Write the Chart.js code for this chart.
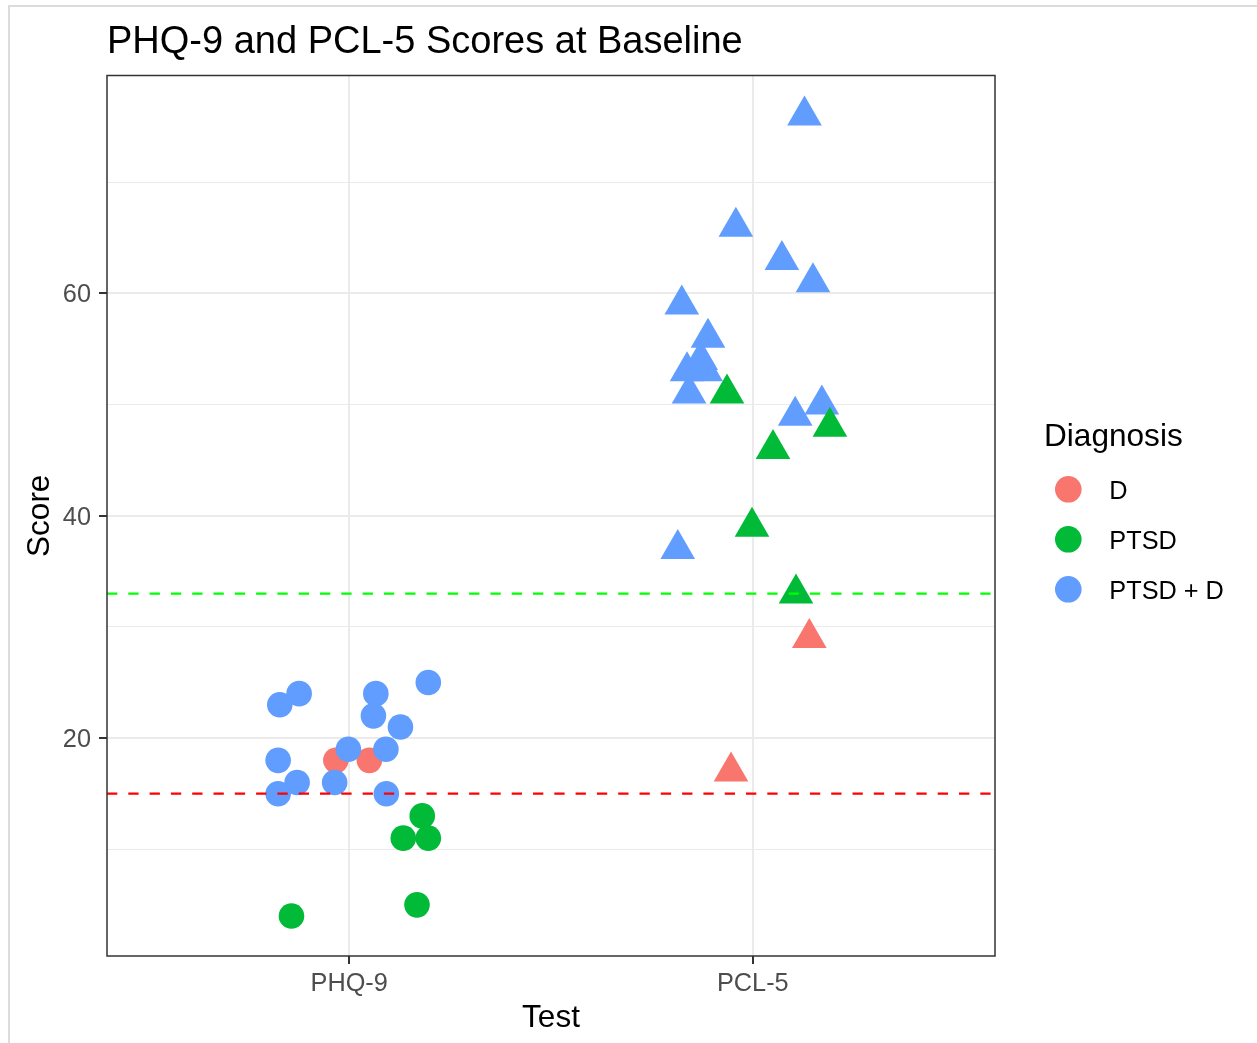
<!DOCTYPE html>
<html>
<head>
<meta charset="utf-8">
<title>PHQ-9 and PCL-5 Scores at Baseline</title>
<script src="https://cdn.jsdelivr.net/npm/chart.js@4.4.1/dist/chart.umd.min.js"></script>
<style>
    html, body { margin: 0; padding: 0; background: #fff; overflow: hidden; }
    #wrap { position: relative; width: 1257px; height: 1043px; }
    #frame { position: absolute; left: 8px; top: 5px; right: 0; bottom: 0;
             border-left: 2px solid #dcdcdc; border-top: 2px solid #dcdcdc; pointer-events: none; }
</style>
</head>
<body>
<div id="wrap">
    <canvas id="score-chart"></canvas>
    <div id="frame"></div>
</div>
<script>
// categories
const testLabels = ['PHQ-9', 'PCL-5'];
const diagnosisLabels = ['D', 'PTSD', 'PTSD + D'];

// jittered test position (1 = PHQ-9, 2 = PCL-5) and score, per diagnosis
const dJitter = [0.967, 1.050, 2.140, 1.946];
const dScores = [18, 18, 29, 17];

const ptsdJitter = [1.181, 1.134, 1.196, 1.168, 0.857, 1.936, 2.191, 2.050, 1.998, 2.107];
const ptsdScores = [13, 11, 11, 5, 4, 51, 48, 46, 39, 33];

const bothJitter = [0.828, 0.876, 1.066, 1.196, 1.060, 1.127, 0.824, 0.998, 1.091, 0.871, 0.964, 0.824, 1.092,
                    2.128, 1.958, 2.072, 2.149, 1.824, 1.889, 1.871, 1.837, 1.883, 1.842, 2.171, 2.105, 1.814];
const bothScores = [23, 24, 24, 25, 22, 21, 18, 19, 19, 16, 16, 15, 15,
                    76, 66, 63, 61, 59, 56, 54, 53, 53, 51, 50, 49, 37];

// cut-off scores (dashed lines)
const cutoffScores = [15, 33];

// axis ticks
const yTicks = [10, 20, 30, 40, 50, 60, 70];
const yLabelled = [20, 40, 60];
const xRange = [0.4, 2.6];
const yRange = [0.4, 79.6];

const diagnosisColors = ['#F8766D', '#00BA38', '#619CFF'];
const cutoffColors = ['#FF0000', '#00FF00'];
const FONT = '"Liberation Sans", Arial, sans-serif';

function toPoints(xs, ys) {
    return xs.map((x, i) => ({ x: x, y: ys[i] }));
}

const groups = [
    { label: diagnosisLabels[0], data: toPoints(dJitter, dScores), color: diagnosisColors[0], order: 3 },
    { label: diagnosisLabels[1], data: toPoints(ptsdJitter, ptsdScores), color: diagnosisColors[1], order: 1 },
    { label: diagnosisLabels[2], data: toPoints(bothJitter, bothScores), color: diagnosisColors[2], order: 2 }
];

const pointDatasets = groups.map(g => ({
    label: g.label,
    data: g.data,
    order: g.order,
    backgroundColor: g.color,
    borderWidth: 0,
    pointStyle: ctx => (ctx.raw && ctx.raw.x < 1.5 ? 'circle' : 'triangle'),
    pointRadius: ctx => (ctx.raw && ctx.raw.x < 1.5 ? 12.8 : 20),
    pointHoverRadius: ctx => (ctx.raw && ctx.raw.x < 1.5 ? 12.8 : 20)
}));

const lineDatasets = cutoffScores.map((s, i) => ({
    type: 'line',
    label: 'cutoff ' + s,
    data: [{ x: xRange[0], y: s }, { x: xRange[1], y: s }],
    order: 0,
    borderColor: cutoffColors[i],
    borderWidth: 2.2,
    borderDash: [10.3, 11],
    pointRadius: 0,
    fill: false
}));

// panel border drawn over the points, like theme_bw
const panelBorder = {
    id: 'panelBorder',
    afterDatasetsDraw(chart) {
        const { ctx, chartArea: a } = chart;
        ctx.save();
        ctx.strokeStyle = '#333333';
        ctx.lineWidth = 1.5;
        ctx.strokeRect(a.left, a.top, a.right - a.left, a.bottom - a.top);
        ctx.restore();
    }
};

// legend on the right: title + round keys
const diagnosisLegend = {
    id: 'diagnosisLegend',
    afterDraw(chart) {
        const ctx = chart.ctx;
        ctx.save();
        ctx.textBaseline = 'alphabetic';
        ctx.textAlign = 'left';
        ctx.fillStyle = '#000';
        ctx.font = '31.6px ' + FONT;
        ctx.fillText('Diagnosis', 1044, 445.7);
        ctx.font = '25.3px ' + FONT;
        diagnosisLabels.forEach((label, i) => {
            const cy = 489.3 + i * 50;
            ctx.beginPath();
            ctx.fillStyle = diagnosisColors[i];
            ctx.arc(1068.3, cy, 13.3, 0, Math.PI * 2);
            ctx.fill();
            ctx.fillStyle = '#000';
            ctx.fillText(label, 1109.3, cy + 10);
        });
        ctx.restore();
    }
};

new Chart(document.getElementById('score-chart'), {
    type: 'scatter',
    data: { datasets: lineDatasets.concat(pointDatasets) },
    plugins: [panelBorder, diagnosisLegend],
    options: {
        responsive: true,
        maintainAspectRatio: false,
        animation: false,
        events: [],
        layout: { padding: { left: 0, right: 262, top: 0, bottom: 0 } },
        plugins: {
            legend: { display: false },
            tooltip: { enabled: false },
            title: {
                display: true,
                text: 'PHQ-9 and PCL-5 Scores at Baseline',
                align: 'start',
                fullSize: false,
                color: '#000',
                font: { family: FONT, size: 38, weight: 'normal', lineHeight: 1.2 },
                padding: { top: 19.8, bottom: 10.1 }
            }
        },
        scales: {
            x: {
                type: 'linear',
                min: xRange[0],
                max: xRange[1],
                afterBuildTicks: s => { s.ticks = [{ value: 1 }, { value: 2 }]; },
                afterFit: s => { s.height = 87; },
                border: { display: false },
                grid: { color: '#EBEBEB', lineWidth: 2, tickLength: 8, tickColor: '#333333', tickWidth: 2 },
                ticks: {
                    padding: 5,
                    color: '#4D4D4D',
                    font: { family: FONT, size: 25.3 },
                    maxRotation: 0,
                    autoSkip: false,
                    callback: v => testLabels[Math.round(v) - 1]
                },
                title: {
                    display: true,
                    text: 'Test',
                    color: '#000',
                    font: { family: FONT, size: 31.5, lineHeight: 1.2 },
                    padding: { top: 0, bottom: 5.4 }
                }
            },
            y: {
                type: 'linear',
                min: yRange[0],
                max: yRange[1],
                afterBuildTicks: s => { s.ticks = yTicks.map(v => ({ value: v })); },
                afterFit: s => { s.width = 107; },
                border: { display: false },
                grid: {
                    color: '#EBEBEB',
                    lineWidth: ctx => (ctx.tick && yLabelled.includes(ctx.tick.value) ? 2 : 1),
                    tickLength: 8,
                    tickWidth: 2,
                    tickColor: ctx => (ctx.tick && yLabelled.includes(ctx.tick.value) ? '#333333' : 'rgba(0,0,0,0)')
                },
                ticks: {
                    padding: 8,
                    labelOffset: 2,
                    color: '#4D4D4D',
                    font: { family: FONT, size: 25.3 },
                    autoSkip: false,
                    callback: v => (yLabelled.includes(v) ? String(v) : '')
                },
                title: {
                    display: true,
                    text: 'Score',
                    color: '#000',
                    font: { family: FONT, size: 31.5, lineHeight: 1.2 },
                    padding: { top: 21, bottom: 0 }
                }
            }
        }
    }
});
</script>
</body>
</html>
